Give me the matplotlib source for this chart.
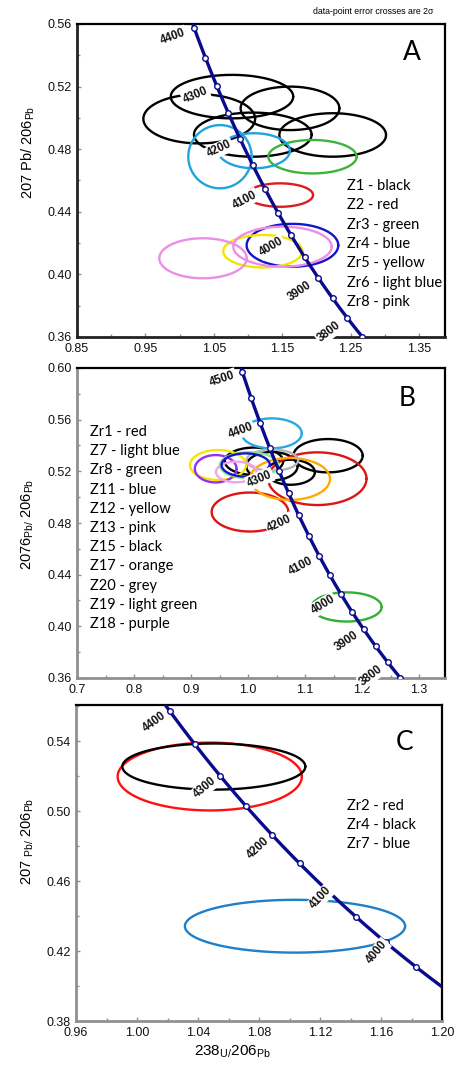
import numpy as np
import matplotlib
matplotlib.use("Agg")
import matplotlib.pyplot as plt
from matplotlib.ticker import MultipleLocator, FormatStrFormatter, FixedLocator

# ---------------- data ----------------
L238 = 1.55125e-10
L235 = 9.8485e-10
U_RATIO = 137.88

# Panel A ellipses: centre x, centre y, half-width x, half-height y, correlation, colour
a_cx = [1.0287, 1.0766, 1.1614, 1.1070, 1.2238, 1.1468, 1.1943, 1.1650, 1.1216, 1.0590, 1.1088, 1.0342, 1.1504]
a_cy = [0.4994, 0.5136, 0.5061, 0.4893, 0.4891, 0.4507, 0.4752, 0.4186, 0.4148, 0.4752, 0.4790, 0.4103, 0.4177]
a_sx = [0.0817, 0.0895, 0.0722, 0.0860, 0.0780, 0.0483, 0.0645, 0.0670, 0.0578, 0.0463, 0.0524, 0.0639, 0.0719]
a_sy = [0.0157, 0.0139, 0.0139, 0.0141, 0.0139, 0.0075, 0.0107, 0.0137, 0.0104, 0.0202, 0.0112, 0.0128, 0.0128]
a_rho = [0.0] * 13
a_col = ['#000000'] * 5 + ['#d81e1e', '#3cb43c', '#1414c8', '#f2e600', '#22a3dc', '#22a3dc', '#ec8ee4', '#ec8ee4']
a_ages = [3800, 3900, 4000, 4100, 4200, 4300, 4400]
a_marks = [3750, 3800, 3850, 3900, 3950, 4000, 4050, 4100, 4150, 4200, 4250, 4300, 4350, 4400]
a_legend = ['Z1 - black', 'Z2 - red', 'Zr3 - green', 'Zr4 - blue', 'Zr5 - yellow', 'Zr6 - light blue', 'Zr8 - pink']
a_xticks = [0.85, 0.95, 1.05, 1.15, 1.25, 1.35]
a_yticks = [0.36, 0.40, 0.44, 0.48, 0.52, 0.56]

# Panel B ellipses
b_cx = [1.1404, 1.0105, 1.0749, 1.0420, 1.1216, 1.0035, 1.0416, 1.0737, 1.0426, 0.9474, 0.9433, 0.9795, 1.0018, 0.9960, 1.1731]
b_cy = [0.5321, 0.5278, 0.5193, 0.5240, 0.5143, 0.4885, 0.5494, 0.5141, 0.5286, 0.5249, 0.5220, 0.5195, 0.5247, 0.5249, 0.4150]
b_sx = [0.0608, 0.0512, 0.0424, 0.0450, 0.0863, 0.0673, 0.0527, 0.0702, 0.0453, 0.0491, 0.0366, 0.0357, 0.0512, 0.0424, 0.0614]
b_sy = [0.0129, 0.0106, 0.0097, 0.0110, 0.0204, 0.0151, 0.0116, 0.0162, 0.0082, 0.0116, 0.0106, 0.0080, 0.0101, 0.0090, 0.0113]
b_rho = [0.0] * 15
b_col = ['#000000'] * 4 + ['#dc1414', '#dc1414', '#2aa8e0', '#ffaa00', '#b4b4b4', '#f2e600', '#9a2ef0', '#f0a6e6', '#8ce68c', '#1414d2', '#33b033']
b_ages = [3800, 3900, 4000, 4100, 4200, 4300, 4400, 4500]
b_marks = [3750, 3800, 3850, 3900, 3950, 4000, 4050, 4100, 4150, 4200, 4250, 4300, 4350, 4400, 4450, 4500]
b_legend = ['Zr1 - red', 'Z7 - light blue', 'Zr8 - green', 'Z11 - blue', 'Z12 - yellow', 'Z13 - pink',
            'Z15 - black', 'Z17 - orange', 'Z20 - grey', 'Z19 - light green', 'Z18 - purple']
b_xticks = [0.7, 0.8, 0.9, 1.0, 1.1, 1.2, 1.3]
b_yticks = [0.36, 0.40, 0.44, 0.48, 0.52, 0.56, 0.60]

# Panel C ellipses
c_cx = [1.0477, 1.0504, 1.1036]
c_cy = [0.5198, 0.5255, 0.4342]
c_sx = [0.0604, 0.0600, 0.0722]
c_sy = [0.0194, 0.0132, 0.0151]
c_rho = [0.0, 0.0, 0.0]
c_col = ['#ff1010', '#000000', '#1f7fc8']
c_ages = [4000, 4100, 4200, 4300, 4400]
c_marks = [3950, 4000, 4050, 4100, 4150, 4200, 4250, 4300, 4350, 4400]
c_legend = ['Zr2 - red', 'Zr4 - black', 'Zr7 - blue']
c_xticks = [0.96, 1.00, 1.04, 1.08, 1.12, 1.16, 1.20]
c_yticks = [0.38, 0.42, 0.46, 0.50, 0.54]


def concordia(t_ma):
    t = np.asarray(t_ma, dtype=float) * 1e6
    e8 = np.exp(L238 * t) - 1.0
    e5 = np.exp(L235 * t) - 1.0
    return 1.0 / e8, e5 / e8 / U_RATIO


W, H = 456, 1068
fig = plt.figure(figsize=(W / 100, H / 100), dpi=100)
plt.rcParams['font.family'] = ['Liberation Sans', 'DejaVu Sans']


def fx(px):
    return px / W


def fy(py):
    return 1 - py / H


def make_axes(l, t, r, b):
    return fig.add_axes([fx(l), fy(b), (r - l) / W, (b - t) / H])


def style(ax, xlim, ylim, xticks, yticks, xfmt, spine_col):
    ax.set_xlim(*xlim)
    ax.set_ylim(*ylim)
    ax.xaxis.set_major_locator(FixedLocator(xticks))
    ax.yaxis.set_major_locator(FixedLocator(yticks))
    dx = (xticks[1] - xticks[0]) / 2
    dy = (yticks[1] - yticks[0]) / 2
    ax.xaxis.set_minor_locator(FixedLocator(np.arange(xticks[0] - dx, xlim[1] + 1e-9, dx)))
    ax.yaxis.set_minor_locator(FixedLocator(np.arange(yticks[0] - dy, ylim[1] + 1e-9, dy)))
    ax.xaxis.set_major_formatter(FormatStrFormatter(xfmt))
    ax.yaxis.set_major_formatter(FormatStrFormatter('%.2f'))
    ax.tick_params(which='both', direction='in', colors='#909090', labelcolor='#111111',
                   labelsize=9, pad=4)
    ax.tick_params(which='major', length=3, width=1)
    ax.tick_params(which='minor', length=2, width=1)
    for s in ['top', 'right']:
        ax.spines[s].set_color('#000000')
        ax.spines[s].set_linewidth(1.6)
    for s in ['left', 'bottom']:
        ax.spines[s].set_color(spine_col)
        ax.spines[s].set_linewidth(2.0)


def draw_ellipses(ax, cx, cy, sx, sy, rho, col, lw):
    th = np.linspace(0, 2 * np.pi, 300)
    for x0, y0, a, b, r, c in zip(cx, cy, sx, sy, rho, col):
        xs = x0 + a * np.cos(th)
        ys = y0 + b * (r * np.cos(th) + np.sqrt(1 - r * r) * np.sin(th))
        ax.plot(xs, ys, color=c, lw=lw, zorder=2, solid_capstyle='round')


def draw_concordia(ax, marks, ages, dists):
    tt = np.linspace(3600, 4600, 800)
    x, y = concordia(tt)
    ax.plot(x, y, color='#0a0a8c', lw=2.4, zorder=3)
    mx, my = concordia(marks)
    ax.plot(mx, my, 'o', ms=4, mfc='white', mec='#0a0a8c', mew=1.0, zorder=4, ls='none')
    for t, d in zip(ages, dists):
        x0, y0 = concordia(t)
        x1, y1 = concordia(t - 1)
        p0 = ax.transData.transform((float(x0), float(y0)))
        p1 = ax.transData.transform((float(x1), float(y1)))
        v = p1 - p0
        v = v / np.hypot(*v)
        perp = np.array([v[1], -v[0]])
        rot = np.degrees(np.arctan2(-perp[1], -perp[0]))
        ax.annotate(str(t), (float(x0), float(y0)), xytext=(d * perp[0], d * perp[1]),
                    textcoords='offset pixels', ha='center', va='center', rotation=rot,
                    rotation_mode='anchor', fontsize=8.3, fontweight='bold', color='#111111',
                    bbox=dict(boxstyle='square,pad=0.12', fc='white', ec='none'), zorder=5,
                    annotation_clip=False)


# ---------- Panel A ----------
axA = make_axes(77, 24, 445, 337)
style(axA, (0.85, 1.388), (0.36, 0.56), a_xticks, a_yticks, '%.2f', '#222222')
draw_ellipses(axA, a_cx, a_cy, a_sx, a_sy, a_rho, a_col, 1.7)
draw_concordia(axA, a_marks, a_ages, [23] * len(a_ages))

# ---------- Panel B ----------
axB = make_axes(77, 368, 445, 678)
style(axB, (0.7, 1.3456), (0.36, 0.60), b_xticks, b_yticks, '%.1f', '#909090')
draw_ellipses(axB, b_cx, b_cy, b_sx, b_sy, b_rho, b_col, 1.7)
draw_concordia(axB, b_marks, b_ages, [21] * len(b_ages))

# ---------- Panel C ----------
axC = make_axes(76, 705, 442, 1021)
style(axC, (0.96, 1.20), (0.38, 0.5607), c_xticks, c_yticks, '%.2f', '#909090')
draw_ellipses(axC, c_cx, c_cy, c_sx, c_sy, c_rho, c_col, 1.7)
draw_concordia(axC, c_marks, c_ages, [13, 10, 19, 19, 19])

# ---------- texts ----------
legfont = ['Lato', 'DejaVu Sans']
for i, s in enumerate(a_legend):
    fig.text(fx(347), fy(186 + i * 19.3), s, fontsize=10.5, family=legfont, va='center', ha='left')
for i, s in enumerate(b_legend):
    fig.text(fx(90), fy(432 + i * 19.2), s, fontsize=10.5, family=legfont, va='center', ha='left')
for i, s in enumerate(c_legend):
    fig.text(fx(347), fy(806 + i * 18.8), s, fontsize=10.5, family=legfont, va='center', ha='left')

for lab, px, py in [('A', 412, 52), ('B', 407, 398), ('C', 405, 742)]:
    fig.text(fx(px), fy(py), lab, fontsize=19, family=legfont, ha='center', va='center')

fig.text(fx(433), fy(12), 'data-point error crosses are 2σ', fontsize=6.3, ha='right', va='center')

fig.text(fx(28), fy(152), r'207 Pb/ 206$_{\mathregular{Pb}}$', rotation=90, fontsize=10.5,
         ha='center', va='center')
fig.text(fx(28), fy(524), r'2076$_{\mathregular{Pb/}}$ 206$_{\mathregular{Pb}}$', rotation=90, fontsize=10.5,
         ha='center', va='center')
fig.text(fx(28), fy(841), r'207 $_{\mathregular{Pb/}}$ 206$_{\mathregular{Pb}}$', rotation=90, fontsize=10.5,
         ha='center', va='center')
fig.text(fx(232), fy(1052), r'238$_{\mathregular{U/}}$206$_{\mathregular{Pb}}$', fontsize=11,
         ha='center', va='center')

fig.savefig('out.png', dpi=100)
